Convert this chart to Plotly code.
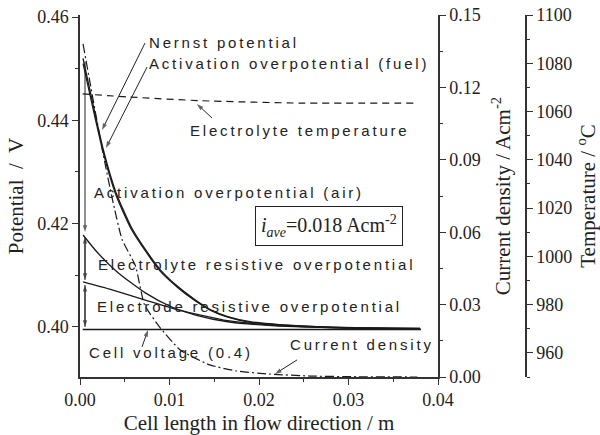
import plotly.graph_objects as go

# ---------------- data ----------------
# Nernst potential / activation (fuel) curves (potential axis)
x_nernst = [0.00034, 0.0026, 0.0040, 0.0057, 0.0073, 0.0090, 0.0110, 0.0129, 0.0146, 0.0165, 0.019, 0.0225, 0.027, 0.032, 0.038]
v_nernst = [0.4520, 0.4343, 0.4261, 0.4194, 0.4150, 0.4110, 0.4077, 0.4052, 0.4033, 0.4020, 0.4010, 0.4004, 0.4000, 0.3998, 0.3997]
v_fuel = [0.4510, 0.4337, 0.4256, 0.4190, 0.4147, 0.4107, 0.4075, 0.4050, 0.4032, 0.4019, 0.4009, 0.4004, 0.4000, 0.3998, 0.3997]

# Electrolyte resistive curve
x_elyte = [0.00034, 0.002, 0.00425, 0.0073, 0.0102, 0.0129, 0.0165, 0.021, 0.027, 0.032, 0.038]
v_elyte = [0.4178, 0.4143, 0.4105, 0.4066, 0.4039, 0.4023, 0.4010, 0.4003, 0.3999, 0.3997, 0.3996]

# Electrode resistive curve
x_elode = [0.00034, 0.0035, 0.0073, 0.011, 0.0165, 0.021, 0.027, 0.032, 0.038]
v_elode = [0.4087, 0.4072, 0.4052, 0.4033, 0.4012, 0.4004, 0.3999, 0.3997, 0.3996]

# Cell voltage
x_cell = [0.0003, 0.0381]
v_cell = [0.3995, 0.3995]

# Current density (A/cm2)
x_cur = [0.00034, 0.0025, 0.0036, 0.0047, 0.0062, 0.0072, 0.0089, 0.0112, 0.0145, 0.0175, 0.0212, 0.0257, 0.031, 0.0377]
c_cur = [0.138, 0.094, 0.074, 0.057, 0.046, 0.030, 0.0207, 0.0112, 0.0050, 0.0025, 0.0012, 0.0004, 0.0001, 0.0]

# Electrolyte temperature (deg C)
x_temp = [0.0003, 0.0056, 0.0134, 0.0246, 0.0377]
t_temp = [1067.3, 1066.0, 1064.5, 1063.5, 1063.5]

# labels (text, left x, centre y on the potential axis)
label_text = ["Nernst potential", "Activation overpotential (fuel)", "Electrolyte temperature",
              "Activation overpotential (air)", "Electrolyte resistive overpotential",
              "Electrode resistive overpotential", "Cell voltage (0.4)", "Current density"]
label_x = [0.00749, 0.00749, 0.01207, 0.00134, 0.00179, 0.00168, 0.00078, 0.02324]
label_y = [0.4550, 0.4511, 0.4381, 0.4261, 0.4120, 0.4039, 0.3950, 0.3965]

# pointer arrows (tail -> tip) on the potential axis; both = double headed
arrow_tail_x = [0.00726, 0.00749, 0.01475, 0.00693, 0.02425, 0.00056, 0.00056, 0.00056]
arrow_tail_y = [0.45496, 0.45032, 0.44045, 0.39613, 0.39361, 0.4513, 0.41742, 0.40813]
arrow_tip_x = [0.00246, 0.0029, 0.01307, 0.0076, 0.02179, 0.00056, 0.00056, 0.00056]
arrow_tip_y = [0.43813, 0.43464, 0.44316, 0.39942, 0.39090, 0.41839, 0.4091, 0.4000]
arrow_both = [False, False, False, False, False, False, True, True]

# tick values
x_ticks = [0.00, 0.01, 0.02, 0.03, 0.04]
y_ticks = [0.40, 0.42, 0.44, 0.46]
cur_ticks = [0.00, 0.03, 0.06, 0.09, 0.12, 0.15]
temp_ticks = [960, 980, 1000, 1020, 1040, 1060, 1080, 1100]

# ---------------- figure ----------------
LINE = "#1a1a1a"
AX = "#333333"
SERIF = "Liberation Serif"
SANS = "Liberation Sans"

fig = go.Figure()

fig.add_trace(go.Scatter(x=x_nernst, y=v_nernst, mode="lines", line=dict(color=LINE, width=1.4, shape="spline", smoothing=0.6), name="Nernst potential"))
fig.add_trace(go.Scatter(x=x_nernst, y=v_fuel, mode="lines", line=dict(color=LINE, width=1.2, shape="spline", smoothing=0.6), name="Activation overpotential (fuel)"))
fig.add_trace(go.Scatter(x=x_elyte, y=v_elyte, mode="lines", line=dict(color=LINE, width=1.3, shape="spline", smoothing=0.6), name="Electrolyte resistive"))
fig.add_trace(go.Scatter(x=x_elode, y=v_elode, mode="lines", line=dict(color=LINE, width=1.3, shape="spline", smoothing=0.6), name="Electrode resistive"))
fig.add_trace(go.Scatter(x=x_cell, y=v_cell, mode="lines", line=dict(color=LINE, width=1.4), name="Cell voltage"))
fig.add_trace(go.Scatter(x=x_cur, y=c_cur, yaxis="y2", mode="lines", line=dict(color=LINE, width=1.2, dash="9px,3px,2px,3px", shape="spline", smoothing=0.5), name="Current density"))
fig.add_trace(go.Scatter(x=x_temp, y=t_temp, yaxis="y3", mode="lines", line=dict(color=LINE, width=1.2, dash="7px,5px", shape="spline", smoothing=0.6), name="Electrolyte temperature"))

# arrows drawn as line traces with an arrow-head marker at the tip
def arrow_trace(x0, y0, x1, y1):
    return go.Scatter(x=[x0, x1], y=[y0, y1], mode="lines+markers",
                      line=dict(color="#222", width=1),
                      marker=dict(symbol="arrow", size=[0, 7], angleref="previous",
                                  color="#222", line=dict(width=0)),
                      hoverinfo="skip", showlegend=False)

for tx, ty, hx, hy, both in zip(arrow_tail_x, arrow_tail_y, arrow_tip_x, arrow_tip_y, arrow_both):
    fig.add_trace(arrow_trace(tx, ty, hx, hy))
    if both:
        fig.add_trace(arrow_trace(hx, hy, tx, ty))

ann = []
for t, x, y in zip(label_text, label_x, label_y):
    ann.append(dict(x=x, y=y, xref="x", yref="y", text=t, showarrow=False,
                    xanchor="left", yanchor="middle", font=dict(family=SANS, size=15, color="#222")))

ann.append(dict(x=0.02784, y=0.41945, xref="x", yref="y",
                text="<i>i</i><sub><i>ave</i></sub>=0.018 Acm<sup>-2</sup>",
                showarrow=False, xanchor="center", yanchor="middle",
                bordercolor="#222", borderwidth=1, borderpad=5, bgcolor="white",
                font=dict(family=SERIF, size=20, color="#222")))

tickfont = dict(family=SERIF, size=18, color="#222")
titlefont = dict(family=SERIF, size=21, color="#222")

def axis_common():
    return dict(ticks="outside", ticklen=6, tickwidth=1.2, tickcolor=AX,
                showline=True, linecolor=AX, linewidth=1.5, showgrid=False, zeroline=False,
                tickfont=dict(tickfont), automargin=False)

fig.update_layout(
    width=600, height=435,
    margin=dict(l=80, r=40, t=15, b=58, autoexpand=False),
    paper_bgcolor="white", plot_bgcolor="white",
    showlegend=False,
    annotations=ann,
    xaxis=dict(domain=[0, 358 / 480], range=[0, 0.04], tickvals=x_ticks, tickformat=".2f",
               minor=dict(ticks="outside", ticklen=3, tickwidth=1, tickcolor=AX, dtick=0.005, tick0=0),
               title=dict(text="Cell length in flow direction / m", font=dict(titlefont), standoff=10),
               **axis_common()),
    yaxis=dict(range=[0.3903, 0.4604], tickvals=y_ticks, tickformat=".2f",
               minor=dict(ticks="outside", ticklen=3, tickwidth=1, tickcolor=AX, dtick=0.01, tick0=0.40),
               title=dict(text="Potential  /  V", font=dict(titlefont), standoff=8),
               **axis_common()),
    yaxis2=dict(overlaying="y", side="right", anchor="x", range=[0, 0.15], tickvals=cur_ticks, tickformat=".2f",
                minor=dict(ticks="outside", ticklen=3, tickwidth=1, tickcolor=AX, dtick=0.015, tick0=0),
                title=dict(text="Current density / Acm<sup>-2</sup>", font=dict(titlefont), standoff=15),
                **axis_common()),
    yaxis3=dict(overlaying="y", side="right", anchor="free", position=(526 - 80) / 480,
                range=[950, 1100], tickvals=temp_ticks,
                minor=dict(ticks="outside", ticklen=3, tickwidth=1, tickcolor=AX, dtick=10, tick0=950),
                title=dict(text="Temperature / <sup>o</sup>C", font=dict(titlefont), standoff=17),
                **axis_common()),
)

# widen the letter spacing of the sans-serif labels (as in the original figure),
# keeping each label's left edge fixed
spacing_js = """
var gd = document.getElementById('{plot_id}');
gd.querySelectorAll('text.annotation-text').forEach(function(t){
  var ff = (t.style.fontFamily || t.getAttribute('style') || '');
  if (ff.indexOf('Liberation Sans') < 0) return;
  var bb = t.getBBox();
  t.setAttribute('text-anchor', 'start');
  t.setAttribute('x', bb.x);
  t.style.letterSpacing = '2.8px';
});
"""

fig.write_html("out.html", post_script=spacing_js)
